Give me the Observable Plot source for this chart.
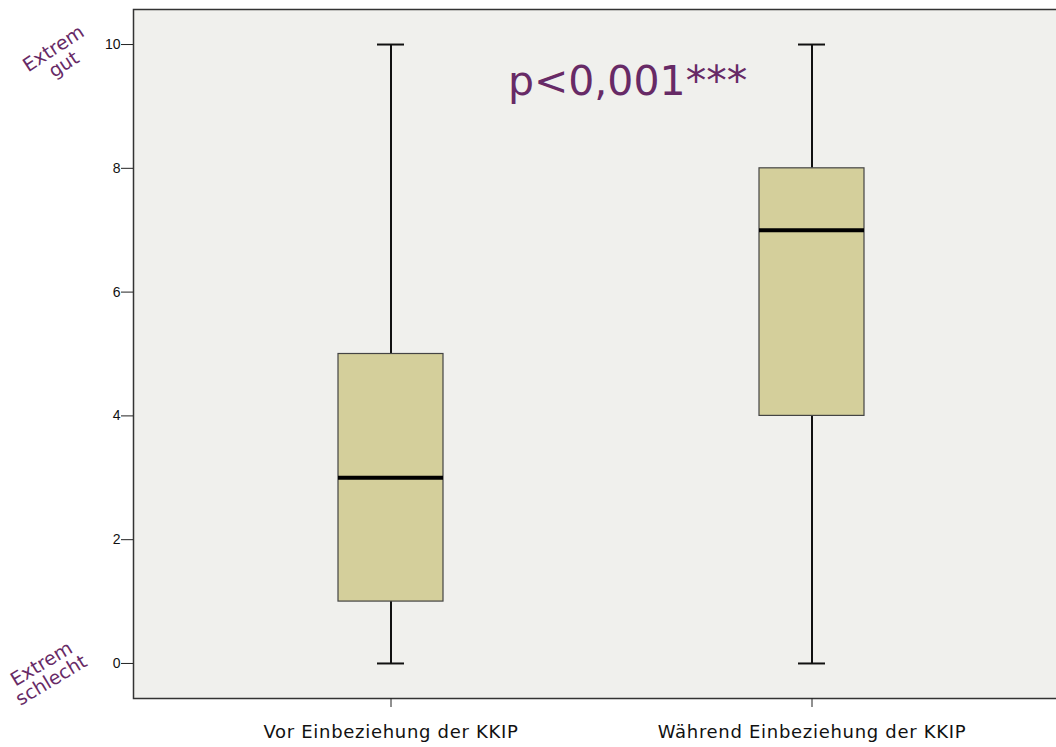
<!DOCTYPE html>
<html><head><meta charset="utf-8">
<script src="https://cdn.jsdelivr.net/npm/d3@7"></script>
<script src="https://cdn.jsdelivr.net/npm/@observablehq/plot@0.6"></script>
<style>
html,body{margin:0;padding:0;background:#fff;}
#chart{width:1056px;height:747px;overflow:hidden;}
g[aria-label="x-axis tick label"] text{letter-spacing:0.7px;}
</style></head>
<body><div id="chart"></div>
<script>
const categories = ["Vor Einbeziehung der KKIP", "Während Einbeziehung der KKIP"];
const mins    = [0, 0];
const q1s     = [1, 4];
const medians = [3, 7];
const q3s     = [5, 8];
const maxs    = [10, 10];
const yTicks  = [0, 2, 4, 6, 8, 10];
const pLabel  = "p<0,001***";
const topLabel = "Extrem\ngut";
const bottomLabel = "Extrem\nschlecht";

const data = categories.map((c, i) => ({cat: c, min: mins[i], q1: q1s[i], med: medians[i], q3: q3s[i], max: maxs[i]}));
const purple = "#672a66";

const chart = Plot.plot({
  width: 1056, height: 747,
  marginLeft: 133, marginRight: -3, marginTop: 9, marginBottom: 49,
  style: {background: "#fff", fontFamily: "DejaVu Sans, sans-serif"},
  x: {type: "band", domain: categories, range: [337.5, 864.5], paddingInner: 0.751, paddingOuter: 0, label: null},
  y: {domain: [-0.566, 10.566], label: null},
  marks: [
    Plot.frame({fill: "#f0f0ed", stroke: "#333", strokeWidth: 1.5}),
    Plot.axisY({ticks: yTicks, tickSize: 12, tickPadding: 1, fontSize: 14, fontFamily: "Liberation Sans", tickFormat: d => d, stroke: "#222", fill: "#111"}),
    Plot.axisX({tickSize: 9, tickPadding: 18, fontSize: 18, stroke: "#222", fill: "#111"}),
    Plot.ruleX(data, {x: "cat", y1: "min", y2: "q1", stroke: "#111", strokeWidth: 2}),
    Plot.ruleX(data, {x: "cat", y1: "q3", y2: "max", stroke: "#111", strokeWidth: 2}),
    Plot.tickY(data, {x: "cat", y: "min", stroke: "#111", strokeWidth: 2, insetLeft: 39, insetRight: 39}),
    Plot.tickY(data, {x: "cat", y: "max", stroke: "#111", strokeWidth: 2, insetLeft: 39, insetRight: 39}),
    Plot.barY(data, {x: "cat", y1: "q1", y2: "q3", fill: "#d4cf9b", stroke: "#444", strokeWidth: 1.2}),
    Plot.tickY(data, {x: "cat", y: "med", stroke: "#000", strokeWidth: 4}),
    Plot.text([pLabel], {text: d => d, frameAnchor: "top", dx: 31, dy: 56, fontSize: 41, fill: purple, fontFamily: "DejaVu Sans", textAnchor: "middle"}),
    Plot.text([topLabel], {text: d => d, frameAnchor: "top-left", dx: -84, dy: 33, rotate: -33, fontSize: 19, fill: purple, textAnchor: "middle", lineHeight: 1.0}),
    Plot.text([bottomLabel], {text: d => d, frameAnchor: "bottom-left", dx: -79, dy: -13, rotate: -31, fontSize: 19, fill: purple, textAnchor: "middle", lineHeight: 1.0})
  ]
});
document.getElementById("chart").append(chart);
</script>
</body></html>
